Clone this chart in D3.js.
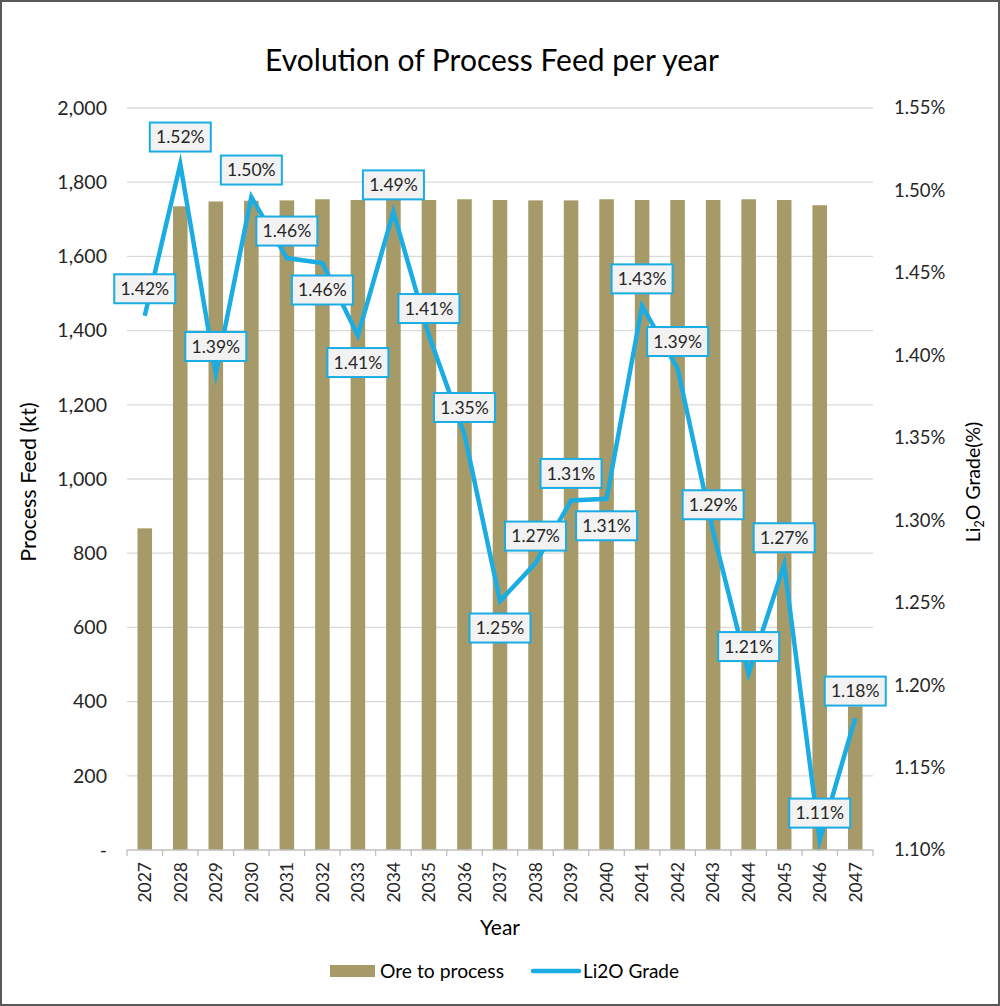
<!DOCTYPE html>
<html>
<head>
<meta charset="utf-8">
<script src="https://cdn.jsdelivr.net/npm/d3@7"></script>
<style>
  html, body { margin: 0; padding: 0; background: #ffffff; }
  svg { display: block; }
  text { font-family: Lato, "Open Sans", sans-serif; }
</style>
</head>
<body>
<script>
// ---- Data ----
const years = ["2027","2028","2029","2030","2031","2032","2033","2034","2035","2036","2037",
               "2038","2039","2040","2041","2042","2043","2044","2045","2046","2047"];
const oreToProcess = [867, 1735, 1748, 1750, 1751, 1754, 1752, 1752, 1752, 1754, 1752,
                      1751, 1751, 1754, 1752, 1752, 1752, 1754, 1752, 1738, 387];
const li2oGrade = [1.424, 1.516, 1.389, 1.496, 1.459, 1.456, 1.412, 1.487, 1.412, 1.352, 1.251,
                   1.274, 1.312, 1.313, 1.430, 1.392, 1.293, 1.207, 1.273, 1.106, 1.180];
const labelSide = ["above","above","above","above","above","below","below","above","above","above","below",
                   "above","above","below","above","above","above","above","above","above","above"];
const leftTicks = [0, 200, 400, 600, 800, 1000, 1200, 1400, 1600, 1800, 2000];
const rightTicks = [1.10, 1.15, 1.20, 1.25, 1.30, 1.35, 1.40, 1.45, 1.50, 1.55];

const titleText = "Evolution of Process Feed per year";
const leftTitle = "Process Feed (kt)";
const xTitle = "Year";
const seriesNames = ["Ore to process", "Li2O Grade"];

// ---- Styles ----
const W = 1000, H = 1006;
const barColor = "#a69b68";
const lineColor = "#1aace2";
const gridColor = "#d9d9d9";
const textColor = "#262626";

const svg = d3.select("body").append("svg").attr("width", W).attr("height", H);
svg.append("rect").attr("x", 0).attr("y", 0).attr("width", W).attr("height", H).attr("fill", "#fff");

const plot = { left: 127, right: 873, top: 108, bottom: 850 };

const x = d3.scaleBand().domain(years).range([plot.left, plot.right])
  .paddingInner(0.59).paddingOuter(0.295);
const yL = d3.scaleLinear().domain([0, 2000]).range([plot.bottom, plot.top]);
const yR = d3.scaleLinear().domain([1.10, 1.55]).range([plot.bottom, plot.top]);

// gridlines
svg.append("g").selectAll("line").data(leftTicks.filter(d => d > 0)).join("line")
  .attr("x1", plot.left).attr("x2", plot.right)
  .attr("y1", d => yL(d)).attr("y2", d => yL(d))
  .attr("stroke", gridColor).attr("stroke-width", 1.3);

// bars
svg.append("g").selectAll("rect").data(years).join("rect")
  .attr("x", d => x(d)).attr("width", x.bandwidth())
  .attr("y", (d, i) => yL(oreToProcess[i]))
  .attr("height", (d, i) => yL(0) - yL(oreToProcess[i]))
  .attr("fill", barColor);

// x axis
const xAxis = d3.axisBottom(x).tickSize(0).tickFormat("");
const gx = svg.append("g").attr("transform", `translate(0,${plot.bottom})`).call(xAxis);
gx.select(".domain").attr("stroke", "#bfbfbf").attr("stroke-width", 1.3)
  .attr("d", `M${plot.left},0H${plot.right}`);
// boundary ticks
const step = x.step();
svg.append("g").selectAll("line").data(d3.range(years.length + 1)).join("line")
  .attr("x1", i => plot.left + i * step).attr("x2", i => plot.left + i * step)
  .attr("y1", plot.bottom).attr("y2", plot.bottom + 6)
  .attr("stroke", "#bfbfbf").attr("stroke-width", 1.3);
// x tick labels
svg.append("g").selectAll("text").data(years).join("text")
  .attr("transform", d => `translate(${x(d) + x.bandwidth() / 2},862) rotate(-90)`)
  .attr("text-anchor", "end").attr("dy", "0.36em")
  .attr("font-size", 17.5).attr("fill", textColor).text(d => d);

// left axis
const fmtL = d3.format(",");
const gyl = svg.append("g").attr("transform", `translate(${plot.left},0)`)
  .call(d3.axisLeft(yL).tickValues(leftTicks).tickSize(0).tickPadding(20)
    .tickFormat(d => d === 0 ? "-" : fmtL(d)));
gyl.select(".domain").remove();
gyl.selectAll("text").attr("font-size", 19.5).attr("fill", textColor)
  .attr("font-family", "Lato, sans-serif");

// right axis
const gyr = svg.append("g").attr("transform", `translate(${plot.right},0)`)
  .call(d3.axisRight(yR).tickValues(rightTicks).tickSize(0).tickPadding(21)
    .tickFormat(d => d.toFixed(2) + "%"));
gyr.select(".domain").remove();
gyr.selectAll("text").attr("font-size", 18.5).attr("fill", textColor)
  .attr("font-family", "Lato, sans-serif");

// line
const line = d3.line()
  .x((d, i) => x(years[i]) + x.bandwidth() / 2)
  .y(d => yR(d));
svg.append("path").datum(li2oGrade).attr("d", line)
  .attr("fill", "none").attr("stroke", lineColor).attr("stroke-width", 4.5)
  .attr("stroke-linejoin", "miter").attr("stroke-miterlimit", 10);

// data labels
const lblW = 61, lblH = 29, lblOff = 27;
const lbl = svg.append("g").selectAll("g").data(li2oGrade).join("g")
  .attr("transform", (d, i) => {
    const cx = x(years[i]) + x.bandwidth() / 2;
    const cy = yR(d) + (labelSide[i] === "above" ? -lblOff : lblOff);
    return `translate(${cx},${cy})`;
  });
lbl.append("rect").attr("x", -lblW / 2).attr("y", -lblH / 2)
  .attr("width", lblW).attr("height", lblH)
  .attr("fill", "#f2f2f2").attr("stroke", lineColor).attr("stroke-width", 2);
lbl.append("text").attr("text-anchor", "middle").attr("dy", "0.36em")
  .attr("font-size", 17.5).attr("fill", textColor)
  .text(d => d.toFixed(2) + "%");

// title
svg.append("text").attr("x", 492).attr("y", 71).attr("text-anchor", "middle")
  .attr("font-size", 30).attr("fill", "#000").text(titleText);

// axis titles
svg.append("text").attr("transform", "translate(28,482) rotate(-90)")
  .attr("text-anchor", "middle").attr("dy", "0.36em")
  .attr("font-size", 21.5).attr("fill", "#000").text(leftTitle);

const rt = svg.append("text").attr("transform", "translate(973,482) rotate(-90)")
  .attr("text-anchor", "middle").attr("dy", "0.36em")
  .attr("font-size", 19.5).attr("fill", "#000");
rt.append("tspan").text("Li");
rt.append("tspan").attr("font-size", 12.5).attr("dy", 4).text("2");
rt.append("tspan").attr("dy", -4).text("O Grade(%)");

svg.append("text").attr("x", 500).attr("y", 935).attr("text-anchor", "middle")
  .attr("font-size", 21).attr("fill", "#000").text(xTitle);

// legend
const lg = svg.append("g");
lg.append("rect").attr("x", 330).attr("y", 965).attr("width", 45).attr("height", 12).attr("fill", barColor);
lg.append("text").attr("x", 380).attr("y", 978).attr("font-size", 19.3).attr("fill", "#000").text(seriesNames[0]);
lg.append("line").attr("x1", 533).attr("x2", 579).attr("y1", 971).attr("y2", 971)
  .attr("stroke", lineColor).attr("stroke-width", 4.5).attr("stroke-linecap", "round");
lg.append("text").attr("x", 583).attr("y", 978).attr("font-size", 19).attr("fill", "#000").text(seriesNames[1]);

// outer border
svg.append("rect").attr("x", 1).attr("y", 1).attr("width", W - 2).attr("height", H - 2)
  .attr("fill", "none").attr("stroke", "#595959").attr("stroke-width", 2);
</script>
</body>
</html>
